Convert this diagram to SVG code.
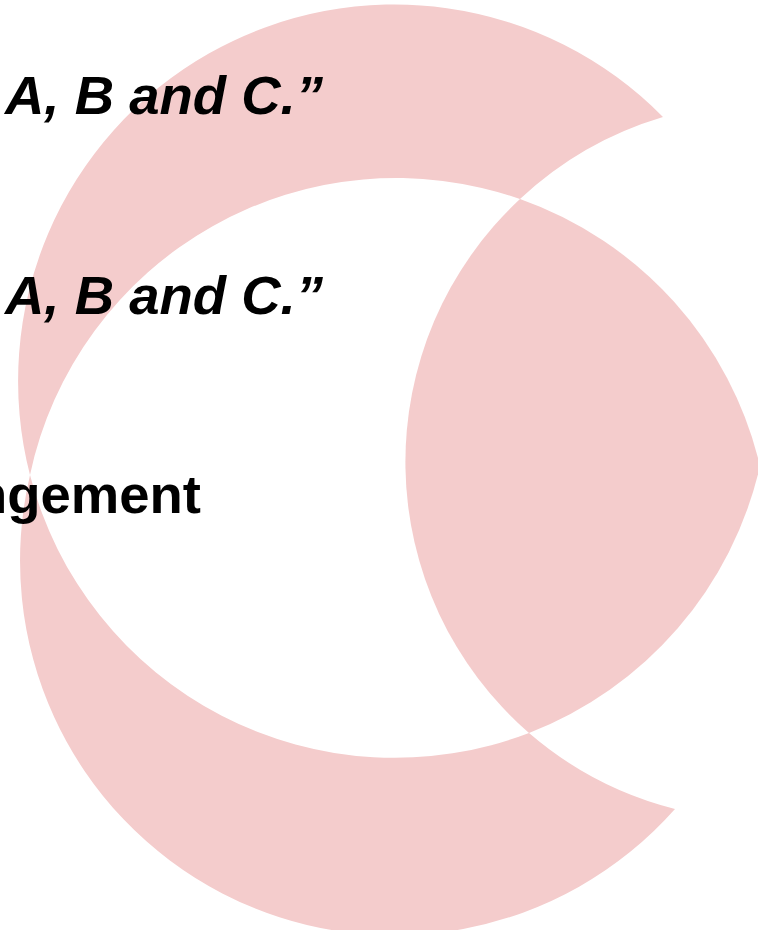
<svg xmlns="http://www.w3.org/2000/svg" width="758" height="930" viewBox="0 0 758 930">
<style>
.band{fill:#F4CCCC;stroke:none}
.t{font-family:"Liberation Sans",Arial,sans-serif;font-weight:bold;font-size:54.5px;fill:#000}
.i{font-style:italic}
</style>
<rect width="758" height="930" fill="#fff"/>
<g id="shapes">
<path id="top-band" class="band" d="M30 475 A376.5 376.5 0 0 1 663 117 A359 359 0 0 0 520 199 A374.5 374.5 0 0 0 30 475 Z"/>
<path id="bottom-band" class="band" d="M30 475 A374.5 374.5 0 0 0 675 809 A359 359 0 0 1 529 733 A376.5 376.5 0 0 1 30 475 Z"/>
<path id="lens" class="band" d="M520 199 A359 359 0 0 0 529 733 A376.5 376.5 0 0 0 760 466 A374.5 374.5 0 0 0 520 199 Z"/>
</g>
<g id="texts">
<text class="t i" x="5" y="114">A, B and C.”</text>
<text class="t i" x="5" y="314">A, B and C.”</text>
<text class="t" x="201" y="513" text-anchor="end">ngement</text>
</g>
</svg>
